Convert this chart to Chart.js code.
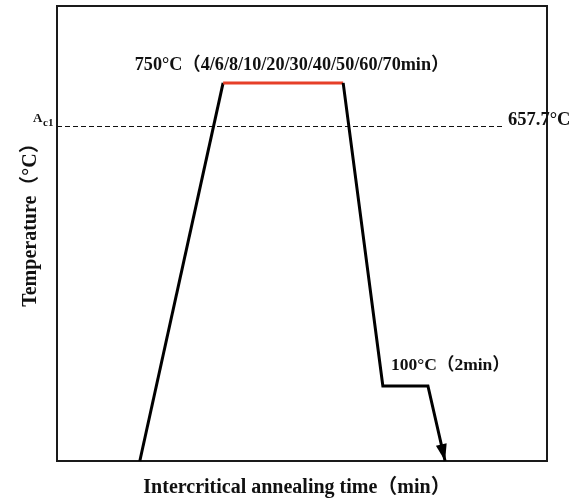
<!DOCTYPE html>
<html>
<head>
<meta charset="utf-8">
<script src="https://cdn.jsdelivr.net/npm/chart.js@4/dist/chart.umd.min.js"></script>
<style>
  html, body { margin: 0; padding: 0; background: #ffffff; }
  #wrap { width: 578px; height: 499px; }
</style>
</head>
<body>
<div id="wrap"><canvas id="c" width="578" height="499"></canvas></div>
<script>
// Schematic heat-treatment route: heat, hold at 750 °C, cool, hold at 100 °C, cool.
const timePoints   = [16.9, 33.9, 58.4, 66.5, 75.7, 79.2];   // schematic time axis
const temperatures = [-61, 750, 750, 100, 100, -61];         // °C
const holdSegment  = 1;                                        // index of the 750 °C hold segment
const ac1Temp      = 657.7;                                    // °C
const ac1LineEnd   = 91.4;                                     // time value where the Ac1 guide stops

const X_MIN = 0, X_MAX = 100;
const Y_MIN = -61, Y_MAX = 915;

const holdLabel   = '750°C（4/6/8/10/20/30/40/50/60/70min）';
const lowLabel    = '100°C（2min）';
const ac1Value    = '657.7°C';
const xTitle      = 'Intercritical annealing time（min）';
const yTitle      = 'Temperature（°C）';

const SERIF = "'Liberation Serif', 'Times New Roman', 'Noto Sans CJK SC', serif";

const decorations = {
  id: 'decorations',
  beforeDatasetsDraw(chart) {
    const { ctx, chartArea: a, scales: { x, y } } = chart;
    ctx.save();
    // Ac1 dashed guide
    const yAc = Math.round(y.getPixelForValue(ac1Temp)) + 0.5;
    ctx.strokeStyle = '#111';
    ctx.lineWidth = 1.2;
    ctx.setLineDash([5, 3]);
    ctx.beginPath();
    ctx.moveTo(a.left, yAc);
    ctx.lineTo(x.getPixelForValue(ac1LineEnd), yAc);
    ctx.stroke();
    ctx.setLineDash([]);
    // plot frame
    ctx.strokeStyle = '#1a1a1a';
    ctx.lineWidth = 2;
    ctx.strokeRect(a.left, a.top, a.right - a.left, a.bottom - a.top);
    ctx.restore();
  },
  afterDatasetsDraw(chart) {
    const { ctx, scales: { x, y } } = chart;
    const n = timePoints.length;
    ctx.save();
    // arrow head at the end of the final cooling
    const x1 = x.getPixelForValue(timePoints[n - 2]), y1 = y.getPixelForValue(temperatures[n - 2]);
    const x2 = x.getPixelForValue(timePoints[n - 1]), y2 = y.getPixelForValue(temperatures[n - 1]);
    const ang = Math.atan2(y2 - y1, x2 - x1);
    const len = 17, half = 5.5;
    ctx.fillStyle = '#000';
    ctx.beginPath();
    ctx.moveTo(x2, y2);
    ctx.lineTo(x2 - len * Math.cos(ang) + half * Math.sin(ang), y2 - len * Math.sin(ang) - half * Math.cos(ang));
    ctx.lineTo(x2 - len * Math.cos(ang) - half * Math.sin(ang), y2 - len * Math.sin(ang) + half * Math.cos(ang));
    ctx.closePath();
    ctx.fill();

    ctx.fillStyle = '#111';
    ctx.textBaseline = 'alphabetic';

    // hold label above the 750 °C plateau
    ctx.font = 'bold 18.2px ' + SERIF;
    ctx.textAlign = 'center';
    ctx.fillText(holdLabel, 292, y.getPixelForValue(750) - 13);

    // 100 °C hold label
    ctx.font = 'bold 17.5px ' + SERIF;
    ctx.textAlign = 'left';
    ctx.fillText(lowLabel, 391, y.getPixelForValue(100) - 16);

    // Ac1 marks on both sides
    const yAc = y.getPixelForValue(ac1Temp);
    ctx.font = 'bold 13px ' + SERIF;
    ctx.textAlign = 'left';
    ctx.fillText('A', 33, yAc - 4);
    ctx.font = 'bold 11px ' + SERIF;
    ctx.fillText('c1', 43, yAc);
    ctx.font = 'bold 18.5px ' + SERIF;
    ctx.fillText(ac1Value, 508, yAc - 1);

    // axis titles
    ctx.font = 'bold 20px ' + SERIF;
    ctx.textAlign = 'center';
    ctx.fillText(xTitle, 297, 493);
    ctx.save();
    ctx.translate(36, 220);
    ctx.rotate(-Math.PI / 2);
    ctx.fillText(yTitle, 0, 0);
    ctx.restore();
    ctx.restore();
  }
};

new Chart(document.getElementById('c'), {
  type: 'line',
  data: {
    datasets: [{
      data: timePoints.map((t, i) => ({ x: t, y: temperatures[i] })),
      borderColor: '#000',
      borderWidth: 3,
      borderJoinStyle: 'miter',
      pointRadius: 0,
      tension: 0,
      fill: false,
      clip: false,
      segment: {
        borderColor: ctx => ctx.p0DataIndex === holdSegment ? '#e63f28' : '#000'
      }
    }]
  },
  plugins: [decorations],
  options: {
    responsive: false,
    animation: false,
    layout: { padding: { left: 57, right: 31, top: 6, bottom: 38 } },
    plugins: { legend: { display: false }, tooltip: { enabled: false } },
    scales: {
      x: { type: 'linear', min: X_MIN, max: X_MAX, display: false },
      y: { type: 'linear', min: Y_MIN, max: Y_MAX, display: false }
    }
  }
});
</script>
</body>
</html>
